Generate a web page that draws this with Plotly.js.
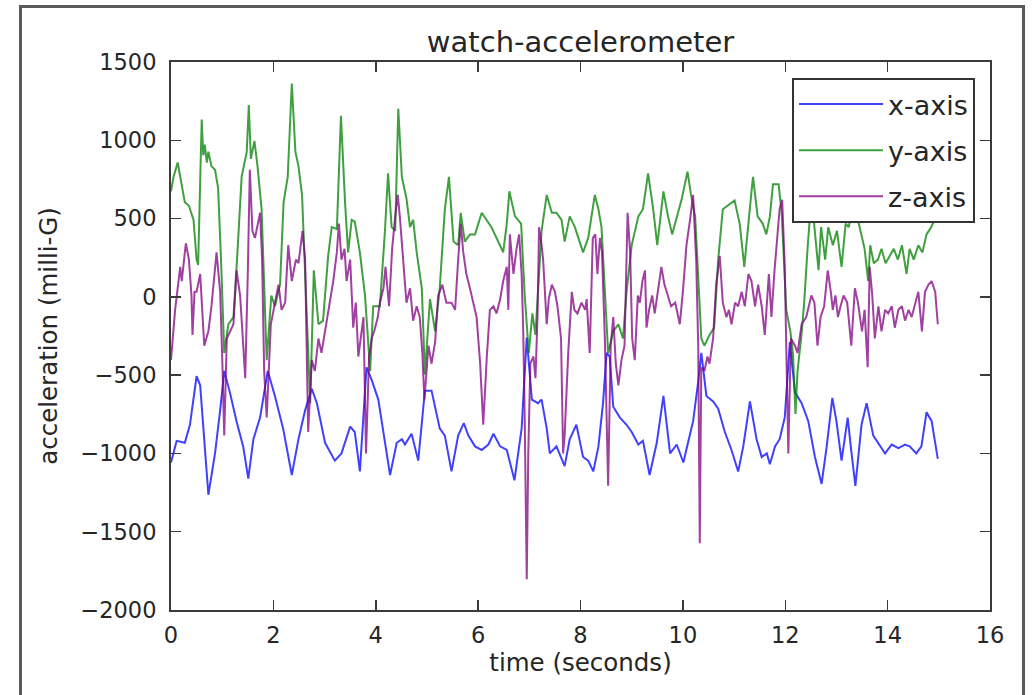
<!DOCTYPE html>
<html>
<head>
<meta charset="utf-8">
<script src="https://cdn.plot.ly/plotly-3.0.1.min.js"></script>
<style>
  html, body { margin: 0; padding: 0; background: #ffffff; overflow: hidden; }
  #wrap { position: relative; width: 1033px; height: 695px; }
  #chart { position: absolute; left: 0; top: 0; width: 1033px; height: 695px; }
  #frame { position: absolute; left: 19px; top: 5px; width: 1000px; height: 710px;
           border: 3px solid #5a5a5a; pointer-events: none; }
</style>
</head>
<body>
<div id="wrap">
  <div id="chart"></div>
  <div id="frame"></div>
</div>
<script>
// ---- data ----
const seriesNames = ["x-axis", "y-axis", "z-axis"];

const xTime = [0,0.11,0.27,0.37,0.50,0.57,0.73,0.86,0.96,1.04,
  1.15,1.28,1.41,1.51,1.61,1.74,1.89,2.03,2.19,2.36,
  2.49,2.62,2.75,2.85,3.01,3.20,3.33,3.50,3.59,3.69,
  3.82,3.92,4.05,4.15,4.28,4.41,4.51,4.57,4.70,4.83,
  4.96,5.09,5.25,5.35,5.48,5.61,5.72,5.81,5.94,6.07,
  6.20,6.30,6.43,6.56,6.71,6.85,6.95,7.05,7.17,7.24,
  7.34,7.40,7.53,7.69,7.79,7.92,8.05,8.15,8.25,8.35,
  8.44,8.51,8.57,8.64,8.77,8.90,9.00,9.13,9.22,9.35,
  9.49,9.62,9.75,9.88,10.01,10.10,10.20,10.30,10.36,10.46,
  10.59,10.69,10.82,10.95,11.08,11.18,11.31,11.44,11.54,11.64,
  11.70,11.80,11.89,11.99,12.09,12.19,12.32,12.45,12.58,12.71,
  12.81,12.92,13.00,13.10,13.22,13.28,13.37,13.49,13.59,13.72,
  13.85,13.95,14.08,14.21,14.34,14.43,14.56,14.66,14.76,14.86,
  14.98];
const xAccel = [-1058,-920,-932,-817,-507,-565,-1264,-1000,-725,-473,
  -610,-794,-955,-1161,-909,-771,-473,-633,-840,-1138,
  -909,-725,-587,-679,-932,-1046,-1000,-829,-863,-1115,
  -450,-530,-656,-863,-1138,-932,-909,-943,-874,-1046,
  -599,-599,-840,-886,-1115,-886,-806,-886,-955,-978,
  -943,-874,-955,-978,-1172,-840,-260,-656,-679,-656,
  -840,-1000,-955,-1081,-909,-817,-1023,-1046,-1115,-955,
  -679,-358,-381,-702,-771,-817,-863,-943,-920,-1138,
  -932,-633,-1000,-943,-1058,-932,-794,-541,-358,-633,
  -668,-714,-863,-978,-1115,-955,-668,-909,-1023,-1000,
  -1069,-955,-909,-771,-289,-610,-679,-794,-1023,-1195,
  -955,-645,-794,-1046,-771,-955,-1207,-817,-679,-886,
  -955,-1000,-943,-966,-943,-955,-1000,-955,-737,-794,
  -1035];

const yTime = [0,0.05,0.13,0.20,0.27,0.35,0.44,0.50,0.53,0.60,
  0.63,0.66,0.70,0.73,0.79,0.86,0.92,0.98,1.04,1.12,
  1.22,1.29,1.38,1.48,1.52,1.56,1.63,1.69,1.77,1.87,
  1.96,2.03,2.13,2.20,2.28,2.36,2.43,2.49,2.56,2.72,
  2.79,2.88,2.97,3.07,3.14,3.24,3.32,3.40,3.46,3.53,
  3.59,3.69,3.79,3.89,3.95,4.08,4.18,4.24,4.31,4.38,
  4.44,4.51,4.60,4.67,4.73,4.80,4.90,4.96,5.06,5.16,
  5.25,5.35,5.43,5.52,5.61,5.66,5.74,5.84,5.94,6.07,
  6.17,6.26,6.36,6.49,6.56,6.61,6.72,6.84,6.91,6.99,
  7.06,7.12,7.24,7.34,7.44,7.53,7.63,7.69,7.79,7.89,
  8.05,8.15,8.28,8.35,8.41,8.48,8.54,8.64,8.74,8.83,
  8.90,9.00,9.13,9.22,9.32,9.42,9.50,9.62,9.71,9.79,
  9.87,9.98,10.09,10.16,10.24,10.29,10.36,10.42,10.52,10.61,
  10.69,10.78,10.88,11.01,11.11,11.20,11.30,11.37,11.46,11.56,
  11.63,11.70,11.76,11.87,11.93,12.02,12.10,12.15,12.20,12.24,
  12.31,12.37,12.44,12.52,12.57,12.65,12.70,12.78,12.84,12.93,
  13.01,13.10,13.18,13.24,13.34,13.46,13.55,13.62,13.66,13.73,
  13.81,13.88,13.96,14.04,14.12,14.20,14.28,14.37,14.43,14.51,
  14.60,14.68,14.76,14.85,14.98];
const yAccel = [674,766,858,743,605,582,491,238,204,1133,
  904,972,858,927,835,812,697,215,-358,-175,
  -129,238,766,927,1225,881,995,835,560,-404,
  9,-60,78,605,766,1362,927,835,651,-679,
  170,-175,-152,261,445,433,1156,605,284,491,
  480,284,9,-473,-60,-60,422,789,445,422,
  1202,766,628,445,491,284,55,-496,-14,-220,
  55,560,766,353,330,537,353,399,399,537,
  491,445,376,284,468,674,514,468,9,-358,
  -106,-243,422,651,537,537,491,353,514,445,
  284,376,651,560,445,55,-358,-220,-175,-266,
  32,330,514,560,789,560,330,674,514,399,
  491,628,800,651,514,146,-266,-312,-243,-197,
  238,560,582,616,468,192,537,766,514,468,
  399,514,720,720,537,-83,-220,-358,-748,-473,
  -266,-37,330,674,445,170,445,238,445,330,
  422,192,468,445,605,422,307,101,330,215,
  238,307,215,261,307,238,330,146,307,238,
  330,284,399,445,537];

const zTime = [0,0.08,0.18,0.21,0.29,0.35,0.40,0.42,0.46,0.50,
  0.57,0.65,0.73,0.79,0.89,0.96,1.00,1.04,1.09,1.15,
  1.22,1.28,1.35,1.39,1.45,1.50,1.54,1.59,1.64,1.74,
  1.78,1.82,1.87,1.95,2.10,2.16,2.23,2.29,2.36,2.44,
  2.49,2.57,2.62,2.68,2.75,2.81,2.88,2.94,3.01,3.09,
  3.17,3.24,3.28,3.33,3.39,3.43,3.50,3.56,3.61,3.66,
  3.76,3.81,3.87,3.92,3.97,4.04,4.08,4.15,4.19,4.26,
  4.32,4.38,4.43,4.47,4.53,4.60,4.67,4.73,4.80,4.86,
  4.91,4.95,5.03,5.09,5.16,5.22,5.30,5.38,5.48,5.55,
  5.61,5.66,5.71,5.77,5.84,5.90,5.97,6.04,6.10,6.17,
  6.23,6.30,6.36,6.43,6.49,6.56,6.59,6.62,6.69,6.75,
  6.80,6.85,6.88,6.91,6.95,6.98,7.02,7.08,7.12,7.16,
  7.19,7.24,7.27,7.34,7.38,7.44,7.50,7.55,7.62,7.66,
  7.69,7.76,7.83,7.88,7.94,8.02,8.09,8.12,8.18,8.24,
  8.29,8.33,8.38,8.42,8.48,8.51,8.54,8.59,8.64,8.69,
  8.74,8.80,8.86,8.92,8.97,9.01,9.06,9.12,9.16,9.21,
  9.26,9.29,9.34,9.40,9.45,9.52,9.58,9.64,9.71,9.77,
  9.85,9.94,10.00,10.07,10.14,10.20,10.26,10.30,10.33,10.36,
  10.42,10.48,10.52,10.59,10.65,10.72,10.78,10.85,10.90,10.95,
  11.02,11.08,11.15,11.21,11.28,11.34,11.41,11.47,11.54,11.60,
  11.68,11.73,11.79,11.83,11.89,11.94,11.99,12.06,12.11,12.19,
  12.24,12.32,12.41,12.51,12.57,12.63,12.69,12.76,12.83,12.89,
  12.93,12.98,13.03,13.08,13.14,13.21,13.29,13.36,13.42,13.50,
  13.55,13.61,13.65,13.70,13.75,13.82,13.88,13.95,14.01,14.08,
  14.14,14.21,14.28,14.34,14.41,14.47,14.54,14.60,14.67,14.73,
  14.80,14.86,14.93,14.98];
const zAccel = [-404,-83,192,101,342,238,9,-243,32,32,
  146,-312,-220,-60,284,32,-381,-885,-266,-220,
  -175,169,9,-197,-519,146,812,422,376,537,
  238,-473,-771,-175,78,-83,-37,330,101,238,
  215,422,238,-863,-404,-473,-266,-358,-220,-37,
  101,284,468,238,307,101,238,-197,-37,-381,
  -129,-1000,-381,-266,-220,-129,-37,55,192,-60,
  307,514,651,514,238,-37,55,-152,-60,-129,
  -358,-656,-312,-427,-289,9,78,-37,-37,-83,
  238,468,284,146,55,-37,-129,-427,-817,-381,
  -83,-60,-106,-14,101,192,-83,399,146,307,
  399,146,-197,-771,-1803,-1000,-427,-381,-519,-129,
  445,330,238,-175,-14,78,32,-60,-266,-1000,
  -886,-358,32,-83,-106,-37,-83,-14,-358,376,
  399,146,376,284,-312,-771,-1207,-312,-129,-427,
  -565,-404,-312,537,284,-266,-404,9,-37,101,
  169,-197,-83,9,-106,55,192,78,9,-60,
  -37,-175,32,330,491,651,238,-312,-1574,-450,
  -473,-381,-427,-266,78,261,-37,-129,-83,-175,
  -37,-60,32,-60,146,101,-60,78,-60,-243,
  146,-129,169,330,560,620,192,-1000,-266,-312,
  -358,-175,-129,9,-37,-312,-129,-60,169,32,
  -83,9,-129,-60,9,-37,-312,55,-37,-220,
  -83,-450,192,9,-266,-60,-220,-83,-106,-60,
  -197,-83,-60,-152,-83,-129,-37,32,-220,32,
  78,101,32,-175];

const xTicks = [0, 2, 4, 6, 8, 10, 12, 14, 16];
const yTicks = [-2000, -1500, -1000, -500, 0, 500, 1000, 1500];

// ---- chart ----
const FONT = '"DejaVu Sans", "Liberation Sans", sans-serif';
const TXT = '#262626';

const traces = [
  {x: xTime, y: xAccel, name: seriesNames[0], legendgroup: 'a',
   line: {color: 'rgba(0,0,255,0.75)', width: 2}},
  {x: yTime, y: yAccel, name: seriesNames[1], legendgroup: 'b',
   line: {color: 'rgba(0,128,0,0.75)', width: 2}},
  {x: zTime, y: zAccel, name: seriesNames[2], legendgroup: 'c',
   line: {color: 'rgba(128,0,128,0.75)', width: 2}}
].map(t => Object.assign({type: 'scatter', mode: 'lines', hoverinfo: 'skip'}, t));

const axisCommon = {
  showgrid: false, zeroline: false,
  showline: true, linecolor: '#3a3a3a', linewidth: 2, mirror: 'allticks',
  ticks: 'inside', ticklen: 10, tickwidth: 1.5, tickcolor: '#3a3a3a',
  tickfont: {family: FONT, size: 22.5, color: TXT}
};

const layout = {
  width: 1033, height: 695,
  paper_bgcolor: '#ffffff', plot_bgcolor: '#ffffff',
  margin: {l: 171, r: 43, t: 62, b: 85},
  font: {family: FONT, color: TXT},
  title: {text: 'watch-accelerometer', font: {family: FONT, size: 29, color: TXT},
          x: 0.5, xref: 'paper', xanchor: 'center',
          y: 1 - 42 / 695, yref: 'container', yanchor: 'middle'},
  xaxis: Object.assign({}, axisCommon, {
    range: [0, 16], tickvals: xTicks, ticktext: xTicks.map(String),
    ticklabelstandoff: 4,
    title: {text: 'time (seconds)', font: {family: FONT, size: 24.5, color: TXT}, standoff: 6}
  }),
  yaxis: Object.assign({}, axisCommon, {
    range: [-2000, 1500], tickvals: yTicks,
    ticktext: yTicks.map(v => v < 0 ? '\u2212' + Math.abs(v) : String(v)),
    ticklabelstandoff: 8,
    title: {text: 'acceleration (milli-G)', font: {family: FONT, size: 24.5, color: TXT}, standoff: 16}
  }),
  showlegend: true,
  legend: {
    x: 0.9817, xanchor: 'right', y: 0.9708, yanchor: 'top',
    bgcolor: '#ffffff', bordercolor: '#333333', borderwidth: 2,
    font: {family: FONT, size: 27, color: TXT},
    tracegroupgap: 8, itemwidth: 84
  }
};

Plotly.newPlot('chart', traces, layout, {displayModeBar: false, staticPlot: true});
</script>
</body>
</html>
